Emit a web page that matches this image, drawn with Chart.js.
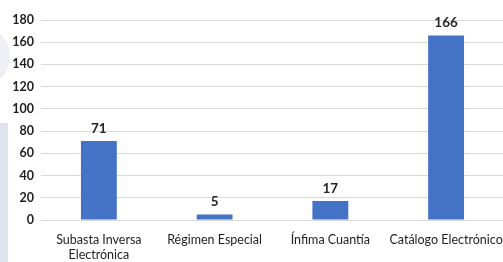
<!DOCTYPE html>
<html>
<head>
<meta charset="utf-8">
<script src="https://cdn.jsdelivr.net/npm/chart.js@4"></script>
<style>
  html, body { margin: 0; padding: 0; background: #fff; overflow: hidden; }
  #wrap { position: relative; width: 516px; height: 262px; }
  .deco1 { position: absolute; left: -30px; top: 30px; width: 40px; height: 52px; border-radius: 50%; background: #eef0f6; }
  .deco2 { position: absolute; left: 0; top: 123px; width: 8px; height: 139px; background: #dfe3ee; }
</style>
</head>
<body>
<div id="wrap">
  <div class="deco1"></div>
  <div class="deco2"></div>
  <canvas id="chart" width="516" height="262"></canvas>
</div>
<script>
// categories and values
const categories = [['Subasta Inversa', 'Electrónica'], 'Régimen Especial', 'Ínfima Cuantía', 'Catálogo Electrónico'];
const values = [71, 5, 17, 166];
const yTicks = [0, 20, 40, 60, 80, 100, 120, 140, 160, 180];

const FONT = 'Lato, "Open Sans", sans-serif';

// draws the value above each bar
const barValues = {
  id: 'barValues',
  afterDatasetsDraw(chart) {
    const ctx = chart.ctx;
    const meta = chart.getDatasetMeta(0);
    ctx.save();
    ctx.font = 'bold 13.5px ' + FONT;
    ctx.fillStyle = '#262626';
    ctx.textAlign = 'center';
    ctx.textBaseline = 'bottom';
    meta.data.forEach((bar, i) => {
      ctx.fillText(values[i], bar.x, bar.y - 6);
    });
    ctx.restore();
  }
};

new Chart(document.getElementById('chart'), {
  type: 'bar',
  data: {
    labels: categories,
    datasets: [{
      data: values,
      backgroundColor: '#4472c4',
      borderWidth: 0,
      categoryPercentage: 1,
      barPercentage: 0.31
    }]
  },
  options: {
    responsive: false,
    animation: false,
    layout: { padding: { top: 20, right: 10, left: 0, bottom: 0 } },
    plugins: { legend: { display: false }, tooltip: { enabled: false } },
    scales: {
      x: {
        grid: { display: false, drawTicks: false },
        border: { display: false },
        ticks: { color: '#1e1e1e', font: { family: FONT, size: 12.5 }, padding: 12, maxRotation: 0, autoSkip: false },
        afterFit(scale) { scale.height = 42; }
      },
      y: {
        min: 0,
        max: 180,
        afterBuildTicks(scale) { scale.ticks = yTicks.map(v => ({ value: v })); },
        grid: { color: '#d9d9d9', drawTicks: false },
        border: { display: false },
        ticks: { color: '#1e1e1e', font: { family: FONT, size: 12.5, weight: 'bold' }, padding: 7 },
        afterFit(scale) { scale.width = 41; }
      }
    }
  },
  plugins: [barValues]
});
</script>
</body>
</html>
